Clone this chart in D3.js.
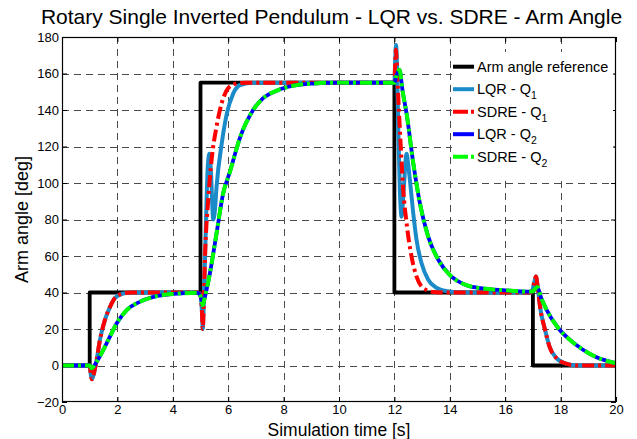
<!DOCTYPE html>
<html><head><meta charset="utf-8">
<script src="https://cdn.jsdelivr.net/npm/d3@7"></script>
<style>
body{margin:0;background:#fff;}
svg{display:block;font-family:"Liberation Sans",Arial,Helvetica,sans-serif;}
</style></head>
<body><svg id="c" width="637" height="439"></svg>
<script>
// ---- data ----
const xTicks = [0,2,4,6,8,10,12,14,16,18,20];
const yTicks = [-20,0,20,40,60,80,100,120,140,160,180];

const refT = [0,1,1,5,5,12,12,17,17,20];
const refY = [0,0,40,40,155,155,40,40,0,0];

const lqr1T = [0,1.0,1.04,1.08,1.14,1.25,1.37,1.55,1.73,1.91,2.15,2.5,4.9,5.0,5.05,5.08,5.12,5.2,5.26,5.32,5.38,5.46,5.52,5.58,5.77,5.95,6.18,6.43,6.9,12.0,12.03,12.06,12.1,12.14,12.2,12.26,12.33,12.44,12.5,12.56,12.68,12.8,12.98,13.22,13.53,13.9,14.5,16.95,17.04,17.11,17.18,17.26,17.44,17.6,17.86,18.2,18.6,20];
const lqr1Y = [0,0,-5,-7.5,-5,3,14,25,32,37,39.2,40,40,39,30,20,35,80,108,116,105,80,85,98,122,138,149,153.7,155,155,168,175.6,160,129,95,81.5,95,116,110,101.6,83.5,68.8,56,47,42.5,40.7,40,40,45,48.7,42,32,19.5,10.3,3.9,1,0,0];

const sdre1T = [0,1.0,1.04,1.08,1.14,1.25,1.37,1.55,1.73,1.91,2.15,2.5,4.9,5.0,5.05,5.08,5.12,5.16,5.28,5.4,5.58,5.77,6.0,6.3,6.7,12.0,12.03,12.05,12.09,12.14,12.23,12.32,12.44,12.62,12.8,13.04,13.4,13.8,16.95,17.04,17.11,17.18,17.26,17.44,17.6,17.86,18.2,18.6,20];
const sdre1Y = [0,0,-5,-7.5,-5,3,14,25,32,37,39.2,40,40,39,30,20,35,58,91,112.6,131,144,152,154.5,155,155,166,173,165,147,120,96,78,59.6,48.7,42.4,40.3,40,40,45,48.7,42,32,19.5,10.3,3.9,1,0,0];

const lqr2T = [0,1.0,1.07,1.25,1.49,1.73,1.97,2.34,2.82,3.42,4.02,4.9,5.0,5.08,5.15,5.34,5.58,5.82,6.06,6.43,6.9,7.27,7.75,8.35,9.07,10.0,12.0,12.08,12.18,12.3,12.44,12.68,12.92,13.22,13.59,14.0,14.6,15.1,16.0,16.9,17.0,17.08,17.16,17.3,17.5,17.92,18.34,18.82,19.3,20.0];
const lqr2Y = [0,0,-1.5,2,8.5,15.8,23,30.4,35,38,39.2,39.8,38,33,37,50.6,72.5,94.4,106,125,140,146.6,150.6,153.3,154.5,155,155,159,162,150,138,111,89,70.6,57.8,49.6,44,42.4,41.2,40.5,40.5,42,43,37,30.4,20.4,14,8.5,4.5,1.2];

const sdre2T = lqr2T.slice();
const sdre2Y = lqr2Y.slice();

const legendLabels = [["Arm angle reference",""],["LQR - Q","1"],["SDRE - Q","1"],["LQR - Q","2"],["SDRE - Q","2"]];

// ---- chart ----
const svg = d3.select("#c");
const L=62,R=616,T=37,B=402;
const x = d3.scaleLinear([0,20],[L,R]);
const y = d3.scaleLinear([-20,180],[B,T]);

svg.append("defs").append("clipPath").attr("id","clip")
  .append("rect").attr("x",L).attr("y",T).attr("width",R-L).attr("height",B-T);

// grid
const grid = svg.append("g").attr("stroke","#4a4a4a").attr("stroke-width",1).attr("stroke-dasharray","7,5");
xTicks.filter(v=>v>0&&v<20).forEach(v=>grid.append("line").attr("x1",Math.round(x(v))+0.5).attr("x2",Math.round(x(v))+0.5).attr("y1",T).attr("y2",B));
yTicks.filter(v=>v>-20&&v<180).forEach(v=>grid.append("line").attr("y1",Math.round(y(v))+0.5).attr("y2",Math.round(y(v))+0.5).attr("x1",L).attr("x2",R));

// axes with inward ticks
function styleAxis(g){g.select(".domain").remove();g.selectAll("line").attr("stroke","#000");g.selectAll("text").attr("fill","#000").attr("font-size","13px").attr("font-family","'Liberation Sans',Arial,sans-serif");}
svg.append("g").attr("transform",`translate(0,${B})`)
  .call(d3.axisBottom(x).tickValues(xTicks).tickSizeInner(-5).tickSizeOuter(0).tickPadding(3).tickFormat(d3.format("d")))
  .call(styleAxis);
svg.append("g").attr("transform",`translate(0,${T})`)
  .call(d3.axisTop(x).tickValues(xTicks).tickSizeInner(-5).tickSizeOuter(0).tickFormat(""))
  .call(styleAxis);
svg.append("g").attr("transform",`translate(${L},0)`)
  .call(d3.axisLeft(y).tickValues(yTicks).tickSizeInner(-5).tickSizeOuter(0).tickPadding(3).tickFormat(d3.format("d")))
  .call(styleAxis);
svg.append("g").attr("transform",`translate(${R},0)`)
  .call(d3.axisRight(y).tickValues(yTicks).tickSizeInner(-5).tickSizeOuter(0).tickFormat(""))
  .call(styleAxis);

// lines
const toPts=(t,v)=>t.map((d,i)=>[d,v[i]]);
const linLine = d3.line().x(d=>x(d[0])).y(d=>y(d[1]));
const smLine = d3.line().x(d=>x(d[0])).y(d=>y(d[1])).curve(d3.curveMonotoneX);
const plot = svg.append("g").attr("clip-path","url(#clip)").attr("fill","none");
const series = [
  {pts:toPts(refT,refY),gen:linLine,color:"#000000",w:3.8,dash:null},
  {pts:toPts(lqr1T,lqr1Y),gen:smLine,color:"#1a8ac8",w:4,dash:null},
  {pts:toPts(sdre1T,sdre1Y),gen:smLine,color:"#ff0000",w:4,dash:"12,4,3,4"},
  {pts:toPts(lqr2T,lqr2Y),gen:smLine,color:"#0000ff",w:3.8,dash:null},
  {pts:toPts(sdre2T,sdre2Y),gen:smLine,color:"#00ff00",w:4,dash:"12,4,3,4"}
];
series.forEach(s=>{
  const p=plot.append("path").attr("d",s.gen(s.pts)).attr("stroke",s.color).attr("stroke-width",s.w).attr("stroke-linejoin","round");
  if(s.dash)p.attr("stroke-dasharray",s.dash);
});

// box
svg.append("rect").attr("x",L+0.5).attr("y",T+0.5).attr("width",R-L-1).attr("height",B-T-1).attr("fill","none").attr("stroke","#000").attr("stroke-width",1.2);

// legend
const lg = svg.append("g");
lg.append("rect").attr("x",452).attr("y",52).attr("width",161).attr("height",124).attr("fill","#fff");
legendLabels.forEach((lab,i)=>{
  const cy = 66.7 + i*22.5;
  const s = series[i];
  const ln = lg.append("line").attr("x1",453).attr("x2",474).attr("y1",cy).attr("y2",cy).attr("stroke",s.color).attr("stroke-width",4);
  if(s.dash) ln.attr("stroke-dasharray","15,3,3,3");
  const t = lg.append("text").attr("x",477).attr("y",cy+5).attr("font-size","14.5px").attr("fill","#000").text(lab[0]);
  if(lab[1]) t.append("tspan").attr("font-size","10.5px").attr("dy",5).text(lab[1]);
});

// titles
svg.append("text").attr("x",331.5).attr("y",24).attr("text-anchor","middle").attr("font-size","21px").attr("fill","#000")
  .text("Rotary Single Inverted Pendulum - LQR vs. SDRE - Arm Angle");
svg.append("text").attr("x",339).attr("y",436).attr("text-anchor","middle").attr("font-size","17.5px").attr("fill","#000")
  .text("Simulation time [s]");
svg.append("text").attr("transform",`translate(28,${(T+B)/2}) rotate(-90)`).attr("text-anchor","middle").attr("font-size","18px").attr("fill","#000")
  .text("Arm angle [deg]");
</script></body></html>
